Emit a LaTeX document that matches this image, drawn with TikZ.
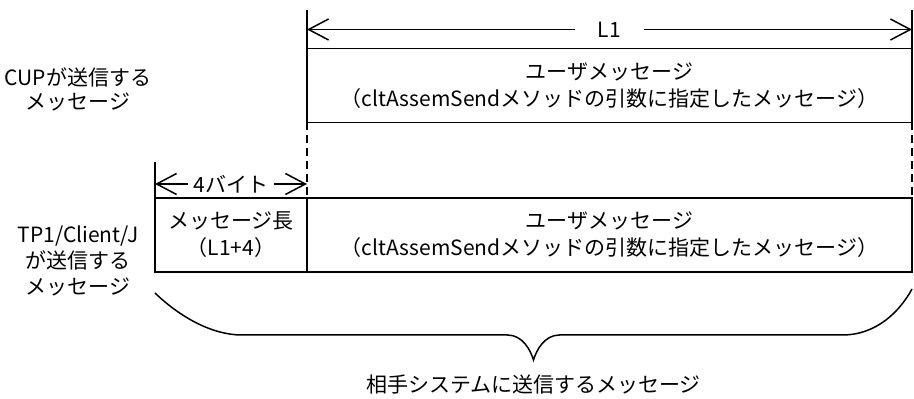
\documentclass[tikz,border=0pt]{standalone}
\usepackage{fontspec}
\newfontfamily\jpfont{Noto Sans CJK JP}
\usetikzlibrary{arrows.meta,positioning,calc}

\begin{document}
\begin{tikzpicture}[
  x=1pt,y=1pt,
  font=\jpfont\fontsize{21}{27}\selectfont,
  box/.style={draw,line width=1.5pt,outer sep=0pt,inner sep=0pt,minimum height=74pt,align=center},
  dim/.style={{Straight Barb[length=20pt,width=21pt]}-{Straight Barb[length=20pt,width=21pt]},line width=1.5pt},
  guide/.style={line width=1.5pt},
  dashguide/.style={line width=1.5pt,dash pattern=on 8pt off 5pt},
  lbl/.style={fill=white,inner ysep=2pt}
]
\useasboundingbox (0,0) rectangle (914,399);
% boxes
\node[box,minimum width=605pt] (cupmsg) at (609.5,313.5) {ユーザメッセージ\\（cltAssemSendメソッドの引数に指定したメッセージ）};
\node[box,minimum width=152pt] (msglen) at (231,164) {メッセージ長\\（L1+4）};
\node[box,minimum width=605pt,right=0pt of msglen] (tpmsg) {ユーザメッセージ\\（cltAssemSendメソッドの引数に指定したメッセージ）};
% side labels
\node[align=center,font=\jpfont\fontsize{21}{24}\selectfont] (cuplbl) at (78,310) {CUPが送信する\\メッセージ};
\node[align=center,font=\jpfont\fontsize{21}{26}\selectfont] (tplbl) at (78,138) {TP1/Client/J\\が送信する\\メッセージ};
% guide lines
\coordinate (ltop) at ($(cupmsg.north west)+(0,38)$);
\coordinate (rtop) at ($(cupmsg.north east)+(0,38)$);
\draw[guide] (ltop) -- (cupmsg.north west);
\draw[guide] (rtop) -- (cupmsg.north east);
\draw[dashguide] (cupmsg.south west) -- (tpmsg.north west);
\draw[dashguide] (cupmsg.south east) -- (tpmsg.north east);
\coordinate (lentop) at ($(msglen.north west)+(0,36)$);
\draw[guide] (lentop) -- (msglen.north west);
% dimensions
\coordinate (l1a) at ($(cupmsg.north west)+(0,19)$);
\coordinate (l1b) at ($(cupmsg.north east)+(0,19)$);
\draw[dim] (l1a) -- node[lbl,inner xsep=23pt]{L1} (l1b);
\coordinate (fba) at ($(msglen.north west)+(0,14)$);
\coordinate (fbb) at ($(msglen.north east)+(0,14)$);
\draw[dim] (fba) -- node[lbl,inner xsep=6pt]{4バイト} (fbb);
% brace
\coordinate (bl) at ($(msglen.south west)+(0,-21)$);
\coordinate (br) at ($(tpmsg.south east)+(0,-17)$);
\coordinate (btip) at ($(msglen.south west)!0.5!(tpmsg.south east)+(0,-88)$);
\draw[guide] (bl) .. controls +(25,-24) and +(-30,0) .. ($(bl)+(87,-42)$)
  -- ($(btip)+(-26,25)$) .. controls +(15,0) and +(-3,10) .. (btip)
  .. controls +(3,10) and +(-15,0) .. ($(btip)+(26,25)$)
  -- ($(br)+(-70,-46)$) .. controls +(35,0) and +(-12,-22) .. (br);
\node (peer) at ($(btip)+(0,-25)$) {相手システムに送信するメッセージ};
\end{tikzpicture}
\end{document}
